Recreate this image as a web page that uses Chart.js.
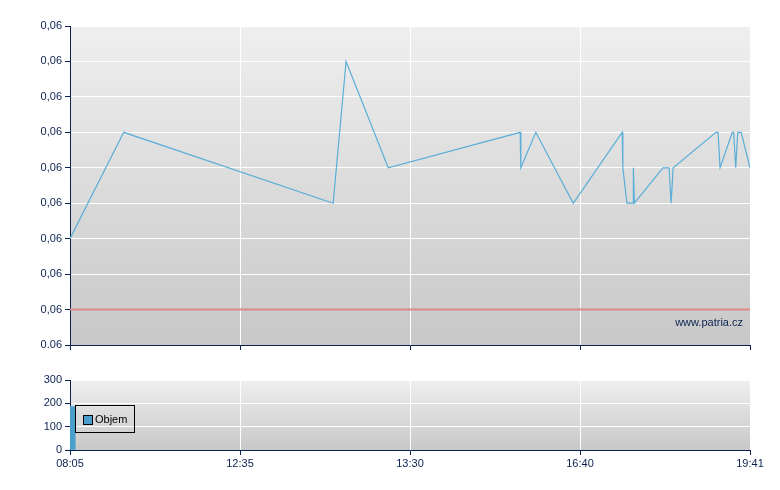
<!DOCTYPE html>
<html lang="cs">
<head>
  <meta charset="UTF-8">
  <title>Patria graf</title>
  <script src="https://cdn.jsdelivr.net/npm/chart.js"></script>
  <style>
    body { margin: 0; background: #fff; width: 780px; height: 490px; position: relative; overflow: hidden; }
    canvas { position: absolute; left: 0; }
    #price { top: 0; }
    #volume { top: 360px; }
    .legend {
      position: absolute; left: 75px; top: 405px; width: 58px; height: 26px;
      border: 1px solid #000; font: 11px "Liberation Sans", Arial, sans-serif; color: #000;
    }
    .legend span.box {
      position: absolute; left: 7px; top: 9px; width: 8px; height: 8px;
      background: #4a9fcc; border: 1px solid #000;
    }
    .legend span.txt { position: absolute; left: 19px; top: 7px; }
  </style>
</head>
<body>
  <canvas id="price" width="780" height="360"></canvas>
  <canvas id="volume" width="780" height="130"></canvas>
  <div class="legend"><span class="box"></span><span class="txt">Objem</span></div>

  <script>
    // popisky casove osy (stejne rozestupy)
    const timeLabels = ['08:05', '12:35', '13:30', '16:40', '19:41'];
    const timeTickPos = [0, 25, 50, 75, 100];

    // cena - poloha v ramci dne (0-100) a hodnota
    const pricePos = [0, 7.9, 38.7, 40.6, 46.8, 66.2, 66.3, 68.5, 74.0, 81.2, 81.3, 81.9, 82.8, 82.85,
      83.0, 87.2, 88.1, 88.4, 88.7, 95.0, 95.3, 95.6, 97.4, 97.6, 97.9, 98.2, 98.7, 100];
    const priceVals = [0.0603, 0.0606, 0.0604, 0.0608, 0.0605, 0.0606, 0.0605, 0.0606, 0.0604, 0.0606,
      0.0605, 0.0604, 0.0604, 0.0605, 0.0604, 0.0605, 0.0605, 0.0604, 0.0605, 0.0606, 0.0606, 0.0605,
      0.0606, 0.0606, 0.0605, 0.0606, 0.0606, 0.0605];
    const prevClose = 0.0601;

    const priceTicks = [0.0600, 0.0601, 0.0602, 0.0603, 0.0604, 0.0605, 0.0606, 0.0607, 0.0608, 0.0609];
    const priceTickLabels = ['0.06', '0,06', '0,06', '0,06', '0,06', '0,06', '0,06', '0,06', '0,06', '0,06'];

    // objem
    const volumePos = [0.4];
    const volumeVals = [186];
    const volumeTicks = [0, 100, 200, 300];

    const navy = '#0b2250';
    const font = { family: '"Liberation Sans", Arial, sans-serif', size: 11 };

    // gradient pozadi plochy grafu
    const bgPlugin = {
      id: 'bg',
      beforeDraw(chart) {
        const a = chart.chartArea, ctx = chart.ctx;
        const g = ctx.createLinearGradient(0, a.top, 0, a.bottom);
        g.addColorStop(0, '#efefef');
        g.addColorStop(1, '#c8c8c8');
        ctx.save();
        ctx.fillStyle = g;
        ctx.fillRect(a.left, a.top, a.right - a.left, a.bottom - a.top);
        ctx.restore();
      }
    };

    const watermark = {
      id: 'wm',
      afterDraw(chart) {
        const a = chart.chartArea, ctx = chart.ctx;
        ctx.save();
        ctx.font = '11px "Liberation Sans", Arial, sans-serif';
        ctx.fillStyle = navy;
        ctx.textAlign = 'right';
        ctx.textBaseline = 'middle';
        ctx.fillText('www.patria.cz', a.right - 7, a.bottom - 22);
        ctx.restore();
      }
    };

    function xAxis(showLabels, h) {
      return {
        type: 'linear', min: 0, max: 100, offset: false,
        afterBuildTicks: s => { s.ticks = timeTickPos.map(v => ({ value: v })); },
        afterFit: s => { s.height = h; },
        ticks: {
          display: showLabels, color: navy, font: font, maxRotation: 0, padding: 2,
          callback: (v, i) => timeLabels[i]
        },
        grid: {
          offset: false,
          color: ctx => (ctx.index === 0 || ctx.index === timeTickPos.length - 1) ? 'rgba(0,0,0,0)' : '#ffffff',
          tickColor: navy, tickLength: 5
        },
        border: { color: navy, width: 1 }
      };
    }

    new Chart(document.getElementById('price'), {
      type: 'line',
      data: {
        datasets: [{
          data: pricePos.map((x, i) => ({ x: x, y: priceVals[i] })),
          borderColor: '#5aaed8', borderWidth: 1.2, pointRadius: 0, tension: 0
        }, {
          data: [{ x: 0, y: prevClose }, { x: 100, y: prevClose }],
          borderColor: '#e08888', borderWidth: 2, pointRadius: 0
        }]
      },
      options: {
        responsive: false, animation: false,
        layout: { padding: { top: 26, right: 30, left: 0, bottom: 0 } },
        plugins: { legend: { display: false }, tooltip: { enabled: false } },
        scales: {
          x: xAxis(false, 15),
          y: {
            min: 0.0600, max: 0.0609,
            afterBuildTicks: s => { s.ticks = priceTicks.map(v => ({ value: v })); },
            afterFit: s => { s.width = 70; },
            ticks: { color: navy, font: font, padding: 3, callback: (v, i) => priceTickLabels[i] },
            grid: { color: '#ffffff', tickColor: navy, tickLength: 5 },
            border: { color: navy, width: 1 }
          }
        }
      },
      plugins: [bgPlugin, watermark]
    });

    new Chart(document.getElementById('volume'), {
      type: 'bar',
      data: {
        datasets: [{
          data: volumePos.map((x, i) => ({ x: x, y: volumeVals[i] })),
          backgroundColor: '#4a9fcc', barThickness: 5
        }]
      },
      options: {
        responsive: false, animation: false,
        layout: { padding: { top: 20, right: 30, left: 0, bottom: 0 } },
        plugins: { legend: { display: false }, tooltip: { enabled: false } },
        scales: {
          x: xAxis(true, 40),
          y: {
            min: 0, max: 300,
            afterBuildTicks: s => { s.ticks = volumeTicks.map(v => ({ value: v })); },
            afterFit: s => { s.width = 70; },
            ticks: { color: navy, font: font, padding: 3 },
            grid: { color: '#ffffff', tickColor: navy, tickLength: 5 },
            border: { color: navy, width: 1 }
          }
        }
      },
      plugins: [bgPlugin]
    });
  </script>
</body>
</html>
